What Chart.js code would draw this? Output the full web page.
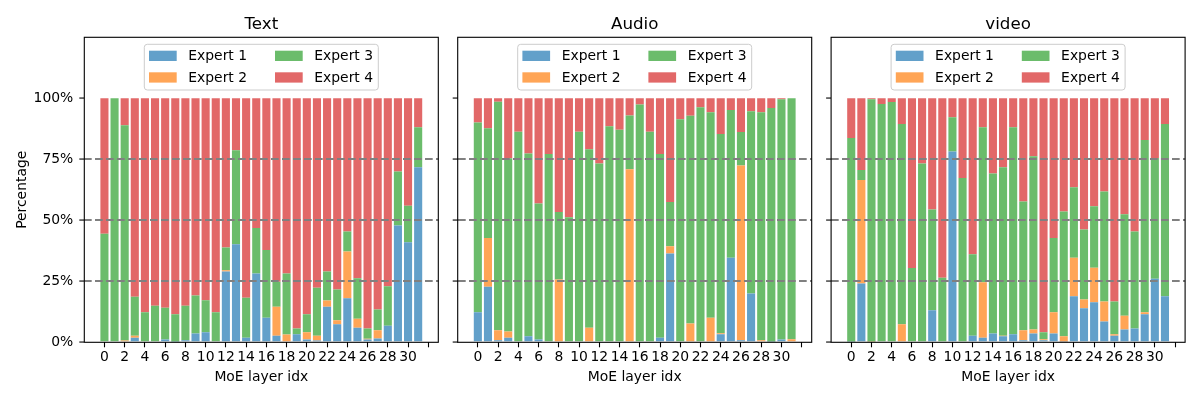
<!DOCTYPE html>
<html>
<head>
<meta charset="utf-8">
<script src="https://cdn.jsdelivr.net/npm/chart.js@4.4.1/dist/chart.umd.min.js"></script>
<style>
html, body { margin: 0; padding: 0; background: #fff; overflow: hidden; }
#wrap { position: relative; width: 1200px; height: 400px; }
canvas { position: absolute; top: 0; }
</style>
</head>
<body>
<div id="wrap">
<canvas id="textChart" width="448" height="400" style="left:0px"></canvas>
<canvas id="audioChart" width="373" height="400" style="left:448px"></canvas>
<canvas id="videoChart" width="379" height="400" style="left:821px"></canvas>
</div>
<script>
// MoE layer index (x axis)
const layers = [0, 1, 2, 3, 4, 5, 6, 7, 8, 9, 10, 11, 12, 13, 14, 15,
                16, 17, 18, 19, 20, 21, 22, 23, 24, 25, 26, 27, 28, 29, 30, 31];

const expertLabels = ['Expert 1', 'Expert 2', 'Expert 3', 'Expert 4'];
const expertColors = ['#62a0ca', '#ffa556', '#6bbc6b', '#e26868'];
const yTickLabels = ['0%', '25%', '50%', '75%', '100%'];

// Text (% of tokens per expert)
const textE1 = [0, 0, 0, 1.9, 0, 0, 1.1, 0.3, 0.8, 3.6, 4.1, 0, 29.0, 40.2, 1.9, 28.2,
                10.1, 2.7, 0.4, 3.3, 1.1, 0.7, 14.6, 7.4, 18.1, 6.0, 1.1, 1.6, 6.8, 47.9, 41.0, 71.7];
const textE2 = [0, 0, 0.7, 0.8, 0, 0, 0, 0, 0, 0, 0, 0, 0.5, 0, 0, 0,
                0, 11.9, 2.8, 0, 3.0, 2.0, 2.5, 1.6, 19.1, 3.7, 0.4, 3.3, 0, 0, 0, 0];
const textE3 = [44.5, 100, 88.3, 16.0, 12.3, 15.0, 13.1, 11.2, 14.2, 15.6, 13.1, 12.3, 9.4, 38.5, 16.4, 18.6,
                27.7, 10.2, 25.0, 2.4, 7.4, 19.7, 11.9, 12.6, 8.2, 16.6, 4.2, 8.5, 16.2, 22.1, 15.0, 16.4];
const textE4 = [55.5, 0, 11.0, 81.3, 87.7, 85.0, 85.8, 88.5, 85.0, 80.8, 82.8, 87.7, 61.1, 21.3, 81.7, 53.2,
                62.2, 75.2, 71.8, 94.3, 88.5, 77.6, 71.0, 78.4, 54.6, 73.7, 94.3, 86.6, 77.0, 30.0, 44.0, 11.9];

// Audio
const audioE1 = [12.3, 22.8, 0.8, 1.9, 0, 2.5, 1.1, 0, 0.4, 0, 0, 0, 0, 0, 0, 0.4,
                 0, 0.4, 1.9, 36.4, 0.4, 0.4, 0.4, 0, 3.3, 34.7, 0.8, 20.0, 0, 0.3, 1.1, 0];
const audioE2 = [0, 19.9, 4.1, 2.5, 0, 0, 0, 0, 25.3, 0.4, 0, 6.0, 0, 0, 0, 70.5,
                 0, 0, 0, 3.0, 0, 7.3, 0, 10.1, 0.4, 0, 71.7, 0, 0.8, 0, 0, 1.2];
const audioE3 = [77.8, 45.0, 93.7, 71.0, 86.3, 74.9, 55.8, 77.2, 27.7, 50.8, 86.3, 73.1, 73.3, 88.5, 87.1, 22.0,
                 97.5, 85.9, 75.3, 18.1, 91.0, 85.1, 95.9, 84.2, 81.7, 60.5, 13.7, 74.7, 93.5, 95.7, 98.5, 98.8];
const audioE4 = [9.9, 12.3, 1.4, 24.6, 13.7, 22.6, 43.1, 22.8, 46.6, 48.8, 13.7, 20.9, 26.7, 11.5, 12.9, 7.1,
                 2.5, 13.7, 22.8, 42.5, 8.6, 7.2, 3.7, 5.7, 14.6, 4.8, 13.8, 5.3, 5.7, 4.0, 0.4, 0];

// video
const videoE1 = [0.3, 24.1, 0, 0, 0, 0, 0, 0, 13.1, 0, 78.2, 0, 2.7, 1.9, 3.6, 2.5,
                 3.3, 0.8, 3.6, 0.8, 3.6, 0.3, 18.9, 14.0, 16.4, 8.5, 2.7, 5.2, 5.7, 11.5, 26.0, 18.9];
const videoE2 = [0, 42.4, 0.3, 0, 0, 7.4, 0, 0, 0, 0, 0, 0, 0, 22.7, 0, 0.2,
                 0, 4.1, 1.6, 0.4, 8.7, 2.2, 15.8, 3.5, 14.2, 8.2, 0.6, 5.7, 0, 0.8, 0, 0];
const videoE3 = [83.4, 4.1, 99.3, 97.7, 98.5, 82.1, 30.4, 73.3, 41.3, 26.5, 14.0, 67.3, 33.4, 63.5, 65.6, 69.0,
                 84.8, 52.8, 71.1, 2.9, 30.4, 51.1, 28.8, 28.7, 25.2, 45.1, 13.4, 41.6, 39.7, 70.6, 49.5, 70.6];
const videoE4 = [16.3, 29.4, 0.4, 2.3, 1.5, 10.5, 69.6, 26.7, 45.6, 73.5, 7.8, 32.7, 63.9, 11.9, 30.8, 28.3,
                 11.9, 42.3, 23.7, 95.9, 57.3, 46.4, 36.5, 53.8, 44.2, 38.2, 83.3, 47.5, 54.6, 17.1, 24.5, 10.5];

Chart.defaults.font.family = '"DejaVu Sans"';
Chart.defaults.font.size = 13.9;
Chart.defaults.color = '#000';

// frame, title and legend drawn inside the axes like matplotlib
const axesDecor = {
    id: 'axesDecor',
    afterDraw(chart, args, opts) {
        const ctx = chart.ctx;
        const a = chart.chartArea;
        const cx = (a.left + a.right) / 2;
        ctx.save();
        ctx.strokeStyle = '#000';
        ctx.lineWidth = 1.1;
        ctx.strokeRect(a.left, a.top, a.right - a.left, a.bottom - a.top);

        ctx.fillStyle = '#000';
        ctx.font = '16.7px "DejaVu Sans"';
        ctx.textAlign = 'center';
        ctx.textBaseline = 'alphabetic';
        ctx.fillText(opts.title, cx, a.top - 8);

        const bx = cx - 117, by = a.top + 7, bw = 234, bh = 45.7;
        ctx.beginPath();
        ctx.roundRect(bx, by, bw, bh, 3);
        ctx.fillStyle = 'rgba(255,255,255,0.8)';
        ctx.fill();
        ctx.strokeStyle = '#cccccc';
        ctx.lineWidth = 1;
        ctx.stroke();

        ctx.font = '13.9px "DejaVu Sans"';
        ctx.textAlign = 'left';
        ctx.textBaseline = 'middle';
        chart.data.datasets.forEach((ds, i) => {
            const col = Math.floor(i / 2), row = i % 2;
            const px = bx + 4.7 + col * 126;
            const py = by + 6.4 + row * 21.6;
            ctx.fillStyle = ds.backgroundColor;
            ctx.fillRect(px, py, 27.7, 10.3);
            ctx.fillStyle = '#000';
            ctx.fillText(ds.label, px + 39.3, py + 5.6);
        });
        ctx.restore();
    }
};

function makeChart(id, title, series, showY, yWidth, padRight) {
    return new Chart(document.getElementById(id), {
        type: 'bar',
        data: {
            labels: layers,
            datasets: series.map((s, i) => ({
                label: expertLabels[i],
                data: s,
                backgroundColor: expertColors[i],
                borderWidth: 0,
                barPercentage: 0.8,
                categoryPercentage: 1.0
            }))
        },
        options: {
            responsive: false,
            animation: false,
            layout: { padding: { left: 0, right: padRight, top: 37.3, bottom: 0 } },
            plugins: {
                legend: { display: false },
                tooltip: { enabled: false },
                axesDecor: { title: title }
            },
            scales: {
                x: {
                    type: 'linear',
                    stacked: true,
                    offset: false,
                    min: -1.99,
                    max: 32.99,
                    grid: { offset: false, drawOnChartArea: false, tickColor: '#000', tickWidth: 1.1, tickLength: 5 },
                    border: { display: false },
                    ticks: {
                        stepSize: 2, includeBounds: false, autoSkip: false, maxRotation: 0, padding: 2,
                        callback: v => (v === 32 ? '' : String(v))
                    },
                    afterBuildTicks: s => { s.ticks = s.ticks.filter(t => t.value >= 0 && t.value <= 32); },
                    afterFit: s => { s.height = 57.7; },
                    title: { display: true, text: 'MoE layer idx', padding: { top: 0, bottom: 14.7 } }
                },
                y: {
                    stacked: true,
                    min: 0,
                    max: 125,
                    grid: {
                        z: 1,
                        color: c => ([25, 50, 75].includes(c.tick.value) ? '#808080' : 'rgba(0,0,0,0)'),
                        lineWidth: 2.1,
                        tickColor: '#000',
                        tickWidth: 1.1,
                        tickLength: 5
                    },
                    border: { display: false, dash: [7.7, 3.3] },
                    ticks: {
                        stepSize: 25, includeBounds: false, display: showY, padding: 6,
                        callback: v => yTickLabels[v / 25]
                    },
                    afterBuildTicks: s => { s.ticks = s.ticks.filter(t => t.value <= 100); },
                    afterFit: s => { s.width = yWidth; },
                    title: { display: showY, text: 'Percentage', padding: { top: 13.7, bottom: 0 } }
                }
            }
        },
        plugins: [axesDecor]
    });
}

const textChart = makeChart('textChart', 'Text', [textE1, textE2, textE3, textE4], true, 84.3, 9.7);
const audioChart = makeChart('audioChart', 'Audio', [audioE1, audioE2, audioE3, audioE4], false, 9.7, 9.3);
const videoChart = makeChart('videoChart', 'video', [videoE1, videoE2, videoE3, videoE4], false, 10.1, 14.9);
</script>
</body>
</html>
